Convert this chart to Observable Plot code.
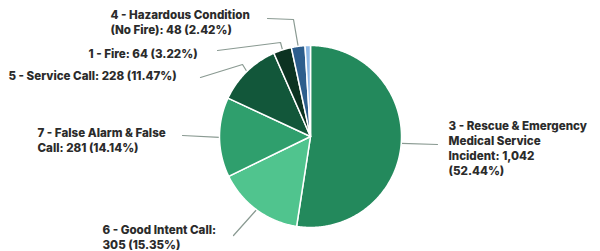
<!DOCTYPE html>
<html>
<head>
<meta charset="utf-8">
<script src="https://cdn.jsdelivr.net/npm/d3@7"></script>
<script src="https://cdn.jsdelivr.net/npm/@observablehq/plot@0.6"></script>
<style>
  html, body { margin: 0; padding: 0; background: #fff; }
  #chart svg { display: block; }
</style>
</head>
<body>
<div id="chart"></div>
<script>
// ---- data ----
const categories = [
  "3 - Rescue & Emergency Medical Service Incident",
  "6 - Good Intent Call",
  "7 - False Alarm & False Call",
  "5 - Service Call",
  "1 - Fire",
  "4 - Hazardous Condition (No Fire)",
  "Other"
];
const counts = [1042, 305, 281, 228, 64, 48, 19];
const labelTexts = [
  "3 - Rescue & Emergency\nMedical Service\nIncident: {v}\n({p})",
  "6 - Good Intent Call:\n{v} ({p})",
  "7 - False Alarm & False\nCall: {v} ({p})",
  "5 - Service Call: {v} ({p})",
  "1 - Fire: {v} ({p})",
  "4 - Hazardous Condition\n(No Fire): {v} ({p})",
  null
];
const colors = ["#23895c", "#50c48e", "#2f9f6d", "#12573a", "#0c3322", "#2d5e8d", "#8db8e6"];

// ---- layout (pixels) ----
const W = 600, H = 251, CX = 310, CY = 136, R = 91;
// label block: left x, center y; leader: elbow and end points
const labelLayout = [
  {tx: 448, ty: 147, elbow: null, end: [437, 144]},
  {tx: 102, ty: 236, elbow: null, end: [233, 235]},
  {tx: 37, ty: 139, elbow: null, end: [182, 135]},
  {tx: 8, ty: 75, elbow: [242, 64], end: [200, 77]},
  {tx: 88, ty: 53, elbow: [280, 42], end: [217, 50]},
  {tx: 110, ty: 21, elbow: [293, 19], end: [267, 18]},
  null
];
const ux = px => (px - CX) / R;
const uy = py => (CY - py) / R;

// ---- build ----
const total = d3.sum(counts);
const rows = categories.map((c, i) => ({name: c, value: counts[i], color: colors[i], i}));
const arcs = d3.pie().sort(null).value(d => d.value)(rows);

const slicePts = [];
arcs.forEach(a => {
  slicePts.push({id: a.data.i, color: a.data.color, x: 0, y: 0});
  const n = Math.max(2, Math.ceil((a.endAngle - a.startAngle) / 0.01));
  for (let k = 0; k <= n; k++) {
    const t = a.startAngle + (a.endAngle - a.startAngle) * k / n;
    slicePts.push({id: a.data.i, color: a.data.color, x: Math.sin(t), y: Math.cos(t)});
  }
});

const fmtV = d3.format(",");
const leaderPts = [];
const labels = [];
arcs.forEach(a => {
  const i = a.data.i;
  const L = labelLayout[i];
  if (!L || !labelTexts[i]) return;
  const m = (a.startAngle + a.endAngle) / 2;
  leaderPts.push({id: i, color: a.data.color, x: Math.sin(m), y: Math.cos(m)});
  if (L.elbow) leaderPts.push({id: i, color: a.data.color, x: ux(L.elbow[0]), y: uy(L.elbow[1])});
  leaderPts.push({id: i, color: a.data.color, x: ux(L.end[0]), y: uy(L.end[1])});
  const pct = (a.data.value / total * 100).toFixed(2) + "%";
  labels.push({
    x: ux(L.tx), y: uy(L.ty),
    text: labelTexts[i].replace("{v}", fmtV(a.data.value)).replace("{p}", pct)
  });
});

const chart = Plot.plot({
  width: W, height: H,
  margin: 0,
  x: {domain: [-1, 1], range: [CX - R, CX + R], axis: null},
  y: {domain: [-1, 1], range: [CY + R, CY - R], axis: null},
  style: {background: "#fff"},
  marks: [
    Plot.line(leaderPts, {x: "x", y: "y", z: "id", stroke: "#8a9a92", strokeWidth: 1.2}),
    Plot.line(slicePts, {x: "x", y: "y", z: "id", fill: d => d.color, stroke: "#ffffff", strokeWidth: 1.5, curve: "linear-closed", strokeLinejoin: "round"}),
    Plot.text(labels, {x: "x", y: "y", text: "text", textAnchor: "start", lineAnchor: "middle", lineHeight: 1.3,
      fontFamily: "Inter, 'Liberation Sans', sans-serif", fontWeight: 800, fontSize: 11.6, fill: "#2b2b2b"})
  ]
});
document.getElementById("chart").appendChild(chart);
</script>
</body>
</html>
